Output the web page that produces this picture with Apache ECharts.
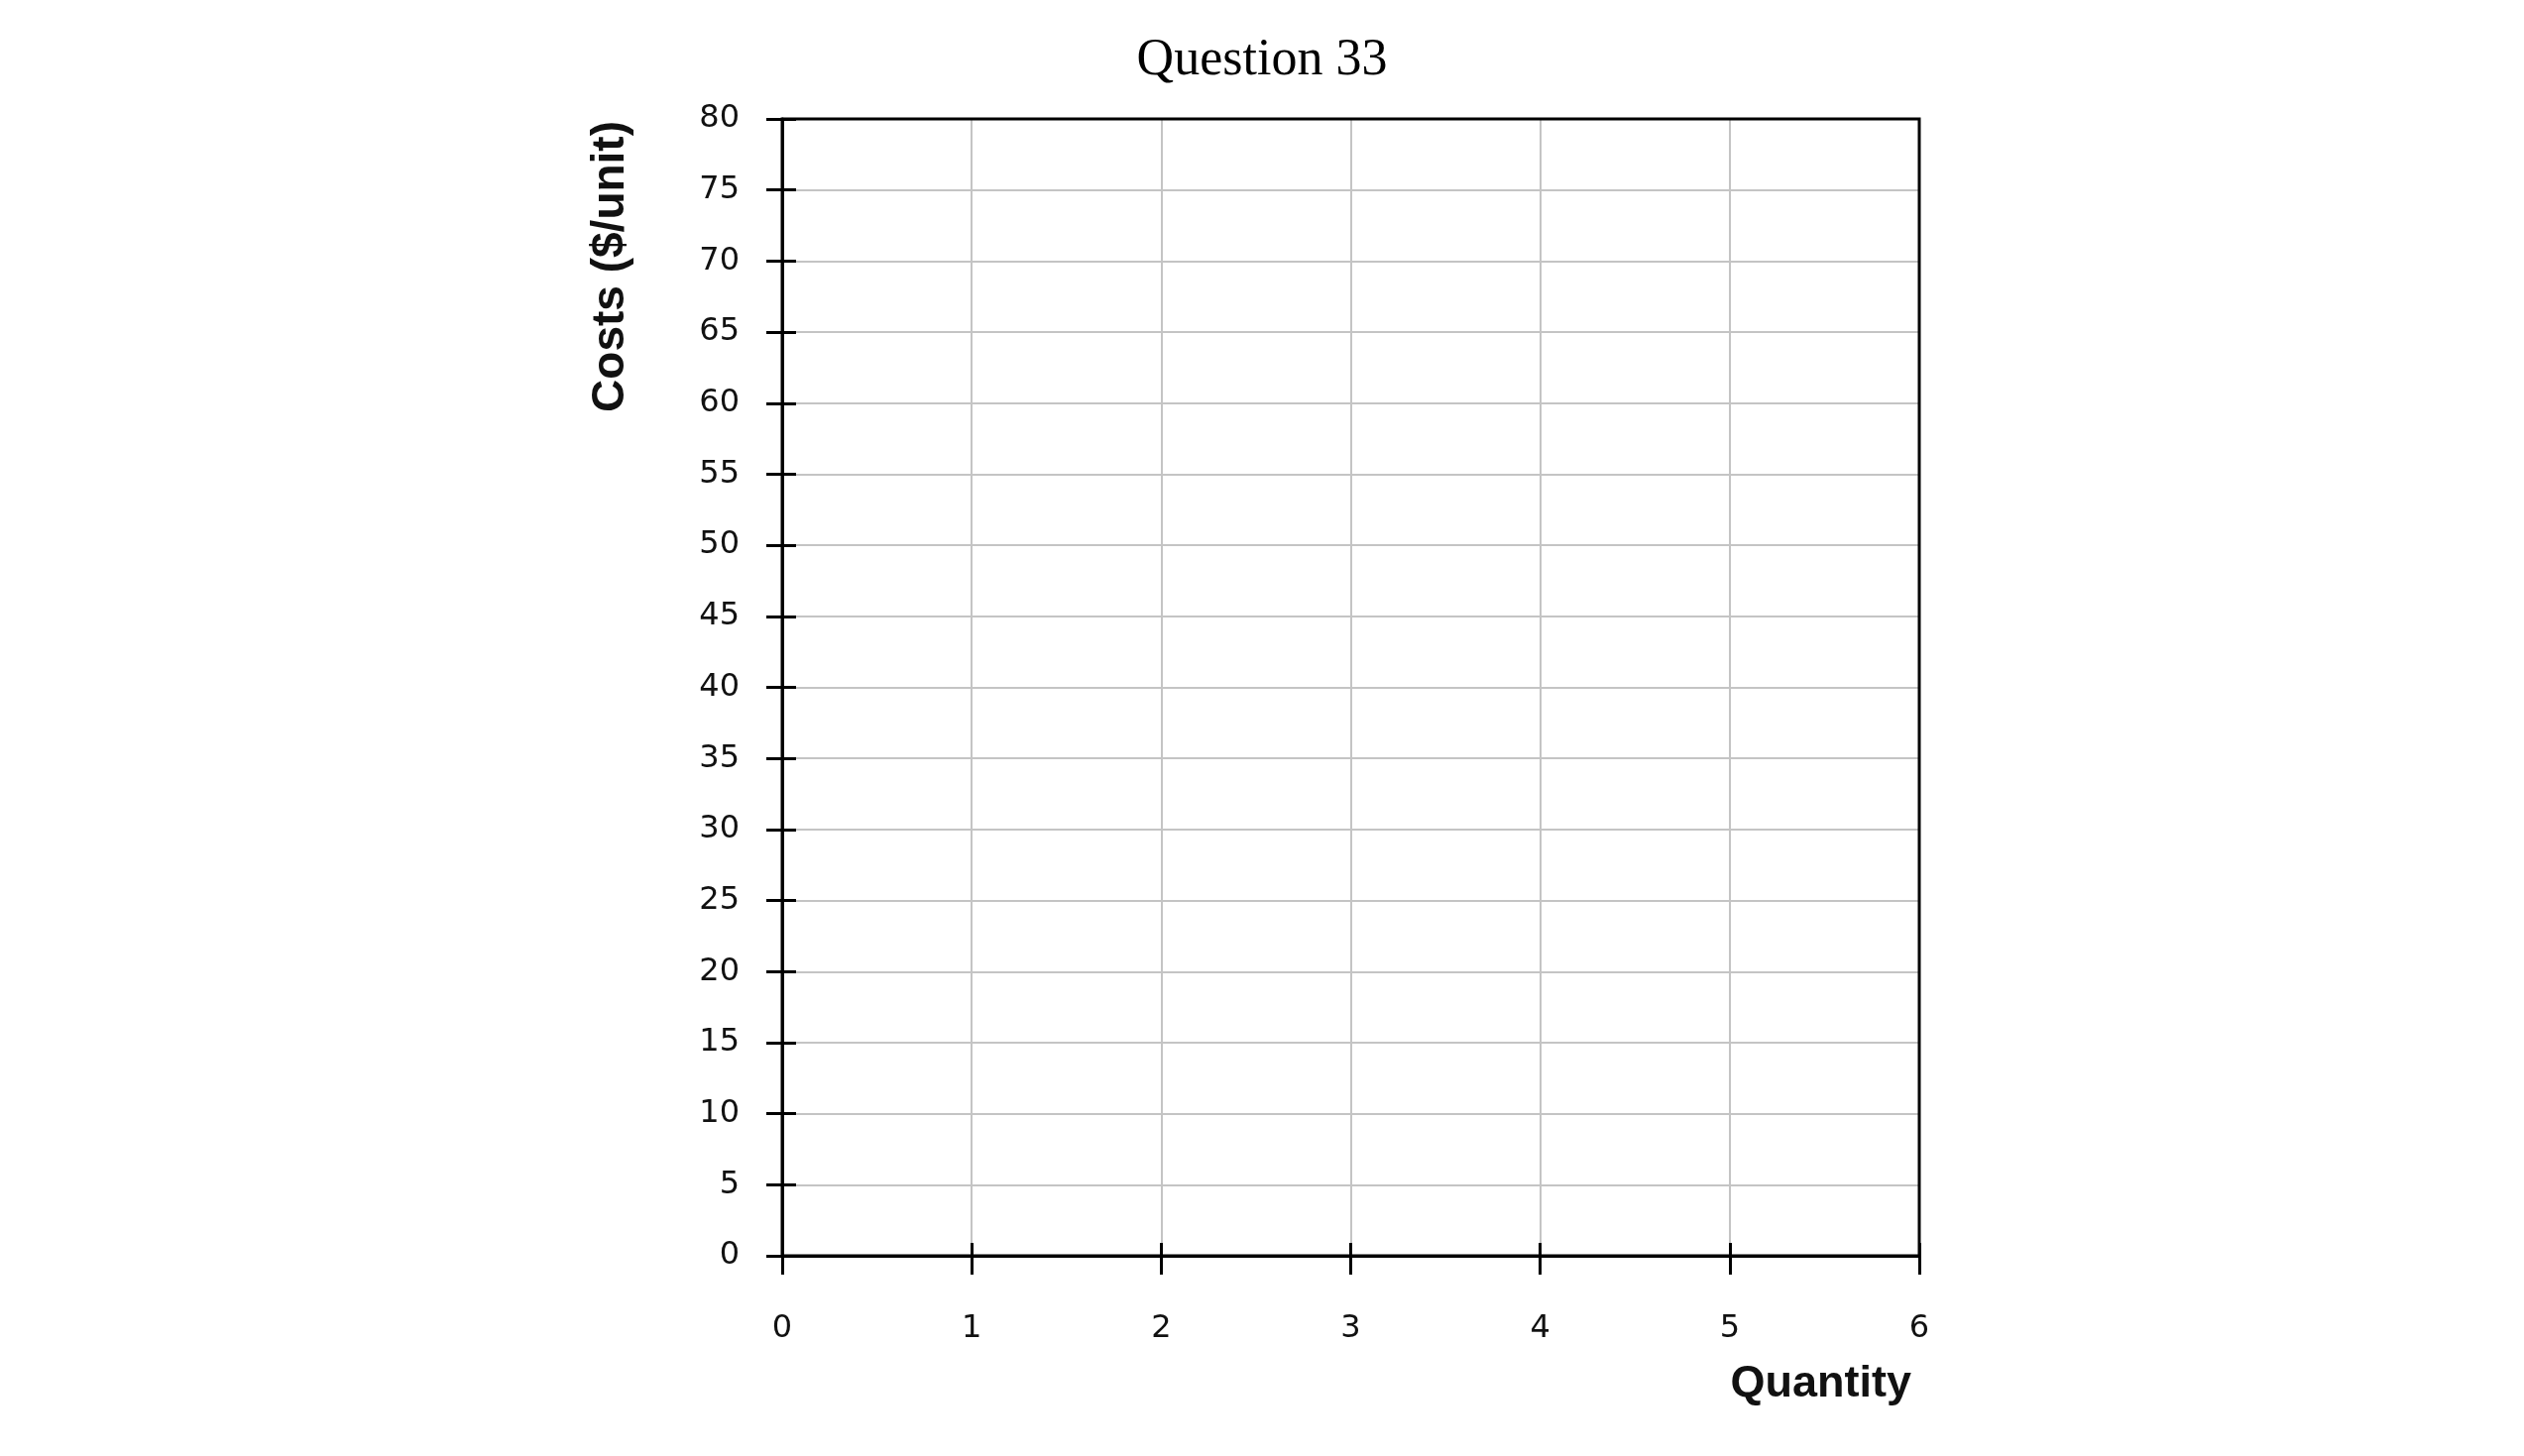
<!DOCTYPE html>
<html>
<head>
<meta charset="utf-8">
<script src="https://cdn.jsdelivr.net/npm/echarts@6/dist/echarts.min.js"></script>
<style>
html,body{margin:0;padding:0;background:#fff;}
#chart{width:2546px;height:1469px;}
</style>
</head>
<body>
<div id="chart"></div>
<script>
const titleText = 'Question 33';
const xAxisName = 'Quantity';
const yAxisName = 'Costs ($/unit)';
const quantityTicks = [0, 1, 2, 3, 4, 5, 6];
const costTicks = [0, 5, 10, 15, 20, 25, 30, 35, 40, 45, 50, 55, 60, 65, 70, 75, 80];
const seriesValues = [];

const xMin = quantityTicks[0], xMax = quantityTicks[quantityTicks.length - 1];
const xStep = quantityTicks[1] - quantityTicks[0];
const yMin = costTicks[0], yMax = costTicks[costTicks.length - 1];
const yStep = costTicks[1] - costTicks[0];

const tickFont = { color: '#111', fontFamily: 'DejaVu Sans', fontSize: 32 };
const chart = echarts.init(document.getElementById('chart'), null, { renderer: 'canvas' });

chart.setOption({
  animation: false,
  backgroundColor: '#fff',
  title: {
    text: titleText,
    left: 'center',
    top: 30,
    textStyle: { fontFamily: 'Liberation Serif', fontWeight: 'normal', fontSize: 52, color: '#000' }
  },
  grid: {
    left: 789, right: 610, top: 120, bottom: 202, z: 3,
    show: true, borderColor: '#000', borderWidth: 3, backgroundColor: 'transparent'
  },
  xAxis: [
    {
      type: 'value', min: xMin, max: xMax, interval: xStep, position: 'bottom',
      name: xAxisName, nameLocation: 'end', nameGap: -8,
      nameTextStyle: { fontFamily: 'Liberation Sans', fontWeight: 'bold', fontSize: 45, color: '#111',
        align: 'right', verticalAlign: 'top', padding: [107, 0, 0, 0] },
      axisLine: { show: true, lineStyle: { color: '#000', width: 3 } },
      axisTick: { show: true, inside: false, length: 19, lineStyle: { color: '#000', width: 3 } },
      axisLabel: Object.assign({ margin: 58 }, tickFont),
      splitLine: { show: true, lineStyle: { color: '#c4c4c4', width: 2 } }
    },
    {
      type: 'value', min: xMin, max: xMax, interval: xStep, position: 'bottom',
      axisLine: { show: false },
      axisTick: { show: true, inside: true, length: 13, lineStyle: { color: '#000', width: 3 } },
      axisLabel: { show: false },
      splitLine: { show: false }
    }
  ],
  yAxis: [
    {
      type: 'value', min: yMin, max: yMax, interval: yStep, position: 'left',
      name: yAxisName, nameLocation: 'end', nameGap: -2, nameRotate: 90,
      nameTextStyle: { fontFamily: 'Liberation Sans', fontWeight: 'bold', fontSize: 46, color: '#111',
        align: 'right', verticalAlign: 'bottom', padding: [0, 0, 150, 0] },
      axisLine: { show: true, lineStyle: { color: '#000', width: 3 } },
      axisTick: { show: true, inside: false, length: 16, lineStyle: { color: '#000', width: 3 } },
      axisLabel: Object.assign({ margin: 43 }, tickFont),
      splitLine: { show: true, lineStyle: { color: '#c4c4c4', width: 2 } }
    },
    {
      type: 'value', min: yMin, max: yMax, interval: yStep, position: 'left',
      axisLine: { show: false },
      axisTick: { show: true, inside: true, length: 14, lineStyle: { color: '#000', width: 3 } },
      axisLabel: { show: false },
      splitLine: { show: false }
    }
  ],
  series: [
    { type: 'line', xAxisIndex: 0, yAxisIndex: 0, data: seriesValues, silent: true }
  ]
});
</script>
</body>
</html>
